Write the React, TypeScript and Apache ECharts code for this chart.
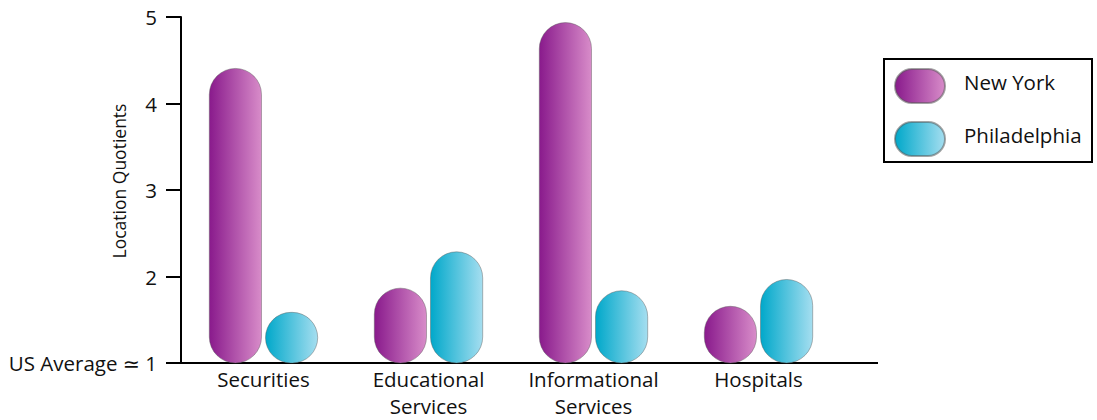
import React, { useEffect, useRef } from "react";
import * as echarts from "echarts";

const categories = ["Securities", "Educational\nServices", "Informational\nServices", "Hospitals"];
const newYork = [4.41, 1.87, 4.94, 1.66];
const philadelphia = [1.59, 2.29, 1.84, 1.97];
const seriesNames = ["New York", "Philadelphia"];
const yMin = 1;
const yMax = 5;
const baselineLabel = "US Average ≃ 1";
const yAxisTitle = "Location Quotients";

const FONT = "'Open Sans', 'DejaVu Sans', sans-serif";
const FS = 20.5;

const nyGradient = {
  type: "linear", x: 0, y: 0, x2: 1, y2: 0,
  colorStops: [
    { offset: 0, color: "#891a8c" },
    { offset: 1, color: "#d88cc9" },
  ],
};
const phGradient = {
  type: "linear", x: 0, y: 0, x2: 1, y2: 0,
  colorStops: [
    { offset: 0, color: "#00a8ca" },
    { offset: 1, color: "#a5def0" },
  ],
};
const pill = "path://M17,0 L33,0 A17,17 0 0 1 33,34 L17,34 A17,17 0 0 1 17,0 Z";

export default function App() {
  const ref = useRef<HTMLDivElement>(null);
  useEffect(() => {
    if (!ref.current) return;
    const chart = echarts.init(ref.current, null, { renderer: "svg" });
    const barStyle = (g: any) => ({
      color: g,
      borderRadius: 27,
      borderColor: "rgba(90,90,90,0.55)",
      borderWidth: 0.8,
    });
    chart.setOption({
      animation: false,
      backgroundColor: "#ffffff",
      textStyle: { fontFamily: FONT },
      grid: {
        left: 181,
        top: 17,
        width: 660,
        height: 346,
        containLabel: false,
        outerBoundsMode: "none",
      },
      legend: {
        orient: "vertical",
        left: 894,
        top: 68,
        padding: 0,
        itemWidth: 50,
        itemHeight: 34,
        itemGap: 17,
        borderWidth: 0,
        icon: pill,
        formatter: "{t|{name}}",
        textStyle: {
          fontSize: FS,
          color: "#111",
          fontFamily: FONT,
          rich: {
            t: { fontSize: FS, color: "#111", fontFamily: FONT, padding: [0, 0, 8, 14] },
          },
        },
        data: seriesNames,
      },
      xAxis: {
        type: "category",
        data: categories,
        axisLine: { lineStyle: { color: "#000", width: 2 } },
        axisTick: { show: false },
        axisLabel: { fontSize: FS, color: "#111", margin: 2, lineHeight: 27, interval: 0, fontFamily: FONT },
      },
      yAxis: {
        type: "value",
        min: yMin,
        max: yMax,
        interval: 1,
        splitLine: { show: false },
        axisLine: { show: true, lineStyle: { color: "#000", width: 2 } },
        axisTick: { show: true, length: 15, lineStyle: { color: "#000", width: 2 } },
        axisLabel: {
          fontSize: FS,
          color: "#111",
          margin: 24,
          fontFamily: FONT,
          formatter: (v: number) => (v === yMin ? baselineLabel : String(v)),
        },
      },
      graphic: [
        {
          type: "line",
          shape: { x1: 838, y1: 363, x2: 878, y2: 363 },
          style: { stroke: "#000", lineWidth: 2 },
        },
        {
          type: "rect",
          shape: { x: 884, y: 59, width: 208, height: 103 },
          style: { fill: "none", stroke: "#000", lineWidth: 2 },
          z: -1,
        },
        {
          type: "text",
          x: 118.5,
          y: 181,
          rotation: Math.PI / 2,
          style: {
            text: yAxisTitle,
            fontSize: 17.5,
            fontFamily: FONT,
            fill: "#111",
            align: "center",
            verticalAlign: "middle",
          },
        },
      ],
      series: [
        {
          name: seriesNames[0],
          type: "bar",
          data: newYork,
          barWidth: 53,
          barGap: "6%",
          itemStyle: barStyle(nyGradient),
        },
        {
          name: seriesNames[1],
          type: "bar",
          data: philadelphia,
          barWidth: 53,
          itemStyle: barStyle(phGradient),
        },
      ],
    });
    return () => chart.dispose();
  }, []);
  return (
    <div
      ref={ref}
      style={{ position: "fixed", left: 0, top: 0, width: 1097, height: 420, background: "#fff" }}
    />
  );
}
